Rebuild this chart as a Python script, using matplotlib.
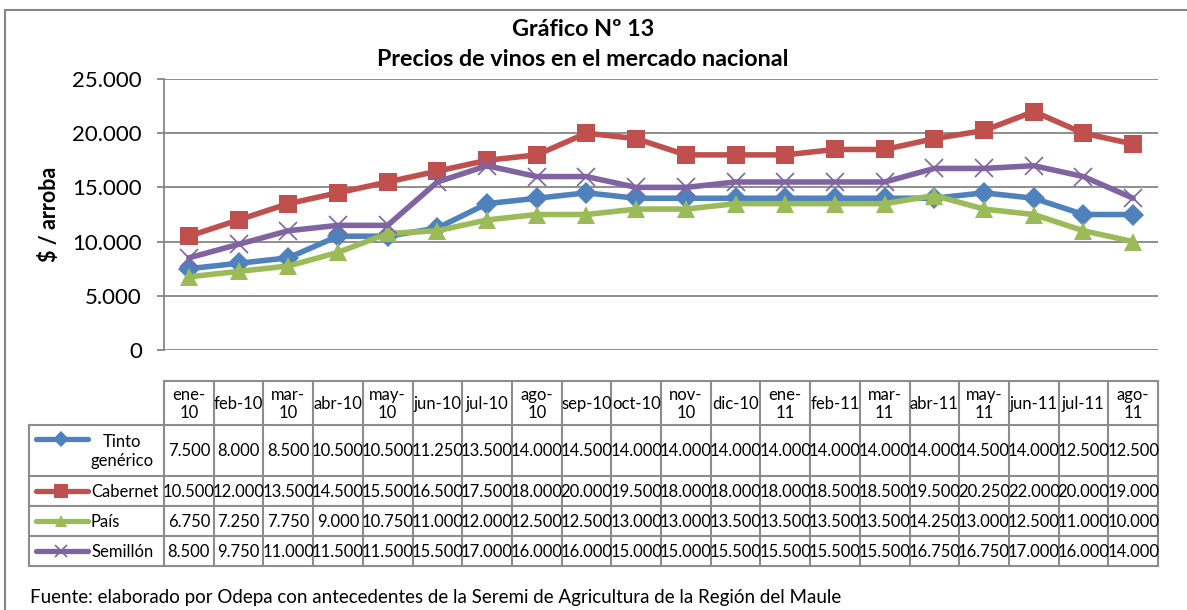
import matplotlib
matplotlib.use("Agg")
import matplotlib.pyplot as plt
from matplotlib.lines import Line2D

plt.rcParams['font.family'] = ['Lato', 'DejaVu Sans']

# ---------------- data ----------------
months = ["ene-\n10", "feb-10", "mar-\n10", "abr-10", "may-\n10", "jun-10", "jul-10",
          "ago-\n10", "sep-10", "oct-10", "nov-\n10", "dic-10", "ene-\n11", "feb-11",
          "mar-\n11", "abr-11", "may-\n11", "jun-11", "jul-11", "ago-\n11"]
tinto = [7500, 8000, 8500, 10500, 10500, 11250, 13500, 14000, 14500, 14000,
         14000, 14000, 14000, 14000, 14000, 14000, 14500, 14000, 12500, 12500]
cabernet = [10500, 12000, 13500, 14500, 15500, 16500, 17500, 18000, 20000, 19500,
            18000, 18000, 18000, 18500, 18500, 19500, 20250, 22000, 20000, 19000]
pais = [6750, 7250, 7750, 9000, 10750, 11000, 12000, 12500, 12500, 13000,
        13000, 13500, 13500, 13500, 13500, 14250, 13000, 12500, 11000, 10000]
semillon = [8500, 9750, 11000, 11500, 11500, 15500, 17000, 16000, 16000, 15000,
            15000, 15500, 15500, 15500, 15500, 16750, 16750, 17000, 16000, 14000]
series_names = ["Tinto\ngenérico", "Cabernet", "País", "Semillón"]
series_values = [tinto, cabernet, pais, semillon]
yticks = [0, 5000, 10000, 15000, 20000, 25000]
title = "Gráfico Nº 13\nPrecios de vinos en el mercado nacional"
ylabel = "$ / arroba"
source = "Fuente: elaborado por Odepa con antecedentes de la Seremi de Agricultura de la Región del Maule"

colors = ["#4F81BD", "#C0504D", "#9BBB59", "#8064A2"]
markers = ["D", "s", "^", "x"]
msizes = [11.5, 13.5, 13, 13]

def fmt(v):
    return f"{v:,.0f}".replace(",", ".")

W, H = 1187, 610
fig = plt.figure(figsize=(W / 100, H / 100), dpi=100)

# background / overlay axes in pixel coordinates
bg = fig.add_axes([0, 0, 1, 1])
bg.set_xlim(0, W)
bg.set_ylim(H, 0)
bg.axis("off")

# outer chart border (left & top visible)
bg.plot([5, 5], [10, H], color="#868686", lw=1.5)
bg.plot([5, W], [10, 10], color="#868686", lw=1.5)

# ---------------- plot area ----------------
px_left, px_right, px_top, px_bot = 164, 1158, 79, 350
ax = fig.add_axes([px_left / W, 1 - px_bot / H, (px_right - px_left) / W, (px_bot - px_top) / H])
n = len(months)
x = list(range(n))
for vals, c, m, ms in zip(series_values, colors, markers, msizes):
    if m == "x":
        ax.plot(x, vals, color=c, lw=4, marker=m, markersize=ms, markeredgewidth=1.2,
                solid_capstyle="round", solid_joinstyle="round")
    else:
        ax.plot(x, vals, color=c, lw=4, marker=m, markersize=ms, markeredgewidth=0,
                solid_capstyle="round", solid_joinstyle="round")
ax.set_xlim(-0.5, n - 0.5)
ax.set_ylim(0, 25000)
ax.set_yticks(yticks)
ax.set_yticklabels([fmt(v) for v in yticks], fontsize=16)
ax.set_xticks([])
ax.grid(axis="y", color="#868686", lw=1.3)
ax.set_axisbelow(True)
for s in ["top", "right", "bottom"]:
    ax.spines[s].set_visible(False)
ax.spines["left"].set_color("#868686")
ax.spines["left"].set_linewidth(1.3)
ax.tick_params(axis="y", length=5, color="#868686", width=1.3, pad=11)
ax.set_ylabel(ylabel, fontsize=15.5, fontweight="bold", labelpad=9)
ax.patch.set_alpha(0)

# title
t1, t2 = title.split("\n")
bg.text(583, 30, t1, ha="center", va="center", fontsize=16.8, fontweight="bold")
bg.text(583, 60, t2, ha="center", va="center", fontsize=16.8, fontweight="bold")

# ---------------- data table ----------------
tbl_x0 = 29
col_x0 = px_left
colw = (px_right - px_left) / n
row_y = [381, 425, 476, 506, 536, 566]  # header top, row boundaries
gc = "#8c8c8c"
glw = 1.5
for i in range(n + 1):
    xx = col_x0 + i * colw
    bg.plot([xx, xx], [row_y[0], row_y[-1]], color=gc, lw=glw)
bg.plot([col_x0, px_right], [row_y[0], row_y[0]], color=gc, lw=glw)
for yy in row_y[1:]:
    bg.plot([tbl_x0, px_right], [yy, yy], color=gc, lw=glw)
bg.plot([tbl_x0, tbl_x0], [row_y[1], row_y[-1]], color=gc, lw=glw)

tfs = 12
for i, lab in enumerate(months):
    cx = col_x0 + (i + 0.5) * colw
    bg.text(cx, (row_y[0] + row_y[1]) / 2 + 1, lab, ha="center", va="center",
            fontsize=tfs, linespacing=1.1)

for r, (name, vals, c, m, ms) in enumerate(zip(series_names, series_values, colors, markers, msizes)):
    yc = (row_y[r + 1] + row_y[r + 2]) / 2
    ky = yc if r else row_y[1] + 14
    bg.add_line(Line2D([36, 88], [ky, ky], color=c, lw=3.8, solid_capstyle="round"))
    if m == "x":
        bg.plot([61], [ky], marker=m, color=c, markersize=9, markeredgewidth=1.2)
    else:
        bg.plot([61], [ky], marker=m, color=c, markersize=ms * 0.7, markeredgewidth=0)
    if r == 0:
        bg.text(122, yc + 1, name, ha="center", va="center", fontsize=tfs, linespacing=1.3)
    else:
        bg.text(91, yc + 1, name, ha="left", va="center", fontsize=tfs)
    for i, v in enumerate(vals):
        cx = col_x0 + (i + 0.5) * colw
        bg.text(cx, yc + 1, fmt(v), ha="center", va="center", fontsize=tfs)

# source
bg.text(30, 598, source, ha="left", va="center", fontsize=13.5)

fig.savefig("out.png", dpi=100)
